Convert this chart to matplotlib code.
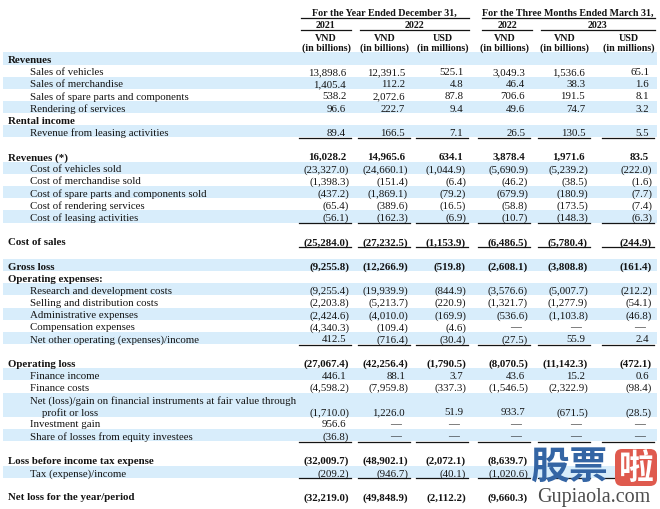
import matplotlib.pyplot as plt
from matplotlib.patches import Rectangle, FancyBboxPatch
import numpy as np

# table rows, '' = blank spacer row
row_labels = [
    "Revenues", "Sales of vehicles", "Sales of merchandise",
    "Sales of spare parts and components", "Rendering of services",
    "Rental income", "Revenue from leasing activities", "",
    "Revenues (*)", "Cost of vehicles sold", "Cost of merchandise sold",
    "Cost of spare parts and components sold", "Cost of rendering services",
    "Cost of leasing activities", "", "Cost of sales", "",
    "Gross loss", "Operating expenses:", "Research and development costs",
    "Selling and distribution costs", "Administrative expenses",
    "Compensation expenses", "Net other operating (expenses)/income", "",
    "Operating loss", "Finance income", "Finance costs",
    "Net (loss)/gain on financial instruments at fair value through",
    "profit or loss", "Investment gain", "Share of losses from equity investees", "",
    "Loss before income tax expense", "Tax (expense)/income", "",
    "Net loss for the year/period",
]

# rows that carry numbers, in order
value_rows = [
    "Sales of vehicles", "Sales of merchandise", "Sales of spare parts and components",
    "Rendering of services", "Revenue from leasing activities", "Revenues (*)",
    "Cost of vehicles sold", "Cost of merchandise sold",
    "Cost of spare parts and components sold", "Cost of rendering services",
    "Cost of leasing activities", "Cost of sales", "Gross loss",
    "Research and development costs", "Selling and distribution costs",
    "Administrative expenses", "Compensation expenses",
    "Net other operating (expenses)/income", "Operating loss", "Finance income",
    "Finance costs", "profit or loss", "Investment gain",
    "Share of losses from equity investees", "Loss before income tax expense",
    "Tax (expense)/income", "Net loss for the year/period",
]

D = None          # shown as a dash
H = np.nan        # hidden under the watermark

vnd_2021 = [13898.6, 1405.4, 538.2, 96.6, 89.4, 16028.2, -23327.0, -1398.3, -437.2,
            -65.4, -56.1, -25284.0, -9255.8, -9255.4, -2203.8, -2424.6, -4340.3, 412.5,
            -27067.4, 446.1, -4598.2, -1710.0, 956.6, -36.8, -32009.7, -209.2, -32219.0]
vnd_2022 = [12391.5, 112.2, 2072.6, 222.7, 166.5, 14965.6, -24660.1, -151.4, -1869.1,
            -389.6, -162.3, -27232.5, -12266.9, -19939.9, -5213.7, -4010.0, -109.4, -716.4,
            -42256.4, 88.1, -7959.8, 1226.0, D, D, -48902.1, -946.7, -49848.9]
usd_2022 = [525.1, 4.8, 87.8, 9.4, 7.1, 634.1, -1044.9, -6.4, -79.2,
            -16.5, -6.9, -1153.9, -519.8, -844.9, -220.9, -169.9, -4.6, -30.4,
            -1790.5, 3.7, -337.3, 51.9, D, D, -2072.1, -40.1, -2112.2]
vnd_q1_2022 = [3049.3, 46.4, 706.6, 49.6, 26.5, 3878.4, -5690.9, -46.2, -679.9,
               -58.8, -10.7, -6486.5, -2608.1, -3576.6, -1321.7, -536.6, D, -27.5,
               -8070.5, 43.6, -1546.5, 933.7, D, D, -8639.7, -1020.6, -9660.3]
vnd_q1_2023 = [1536.6, 38.3, 191.5, 74.7, 130.5, 1971.6, -5239.2, -38.5, -180.9,
               -173.5, -148.3, -5780.4, -3808.8, -5007.7, -1277.9, -1103.8, D, 55.9,
               -11142.3, 15.2, -2322.9, -671.5, D, D, H, H, H]
usd_q1_2023 = [65.1, 1.6, 8.1, 3.2, 5.5, 83.5, -222.0, -1.6, -7.7,
               -7.4, -6.3, -244.9, -161.4, -212.2, -54.1, -46.8, D, 2.4,
               -472.1, 0.6, -98.4, -28.5, D, D, H, H, H]

columns = [vnd_2021, vnd_2022, usd_2022, vnd_q1_2022, vnd_q1_2023, usd_q1_2023]
unit_top = ["VND", "VND", "USD", "VND", "VND", "USD"]
unit_bottom = ["(in billions)", "(in billions)", "(in millions)",
               "(in billions)", "(in billions)", "(in millions)"]

bold_rows = {"Revenues", "Rental income", "Revenues (*)", "Cost of sales", "Gross loss",
             "Operating expenses:", "Operating loss", "Loss before income tax expense",
             "Net loss for the year/period"}
bold_values = {"Revenues (*)", "Cost of sales", "Gross loss", "Operating loss",
               "Loss before income tax expense", "Net loss for the year/period"}
shaded_rows = {"Revenues", "Sales of merchandise", "Rendering of services",
               "Revenue from leasing activities", "Cost of vehicles sold",
               "Cost of spare parts and components sold", "Cost of leasing activities",
               "Gross loss", "Research and development costs", "Administrative expenses",
               "Net other operating (expenses)/income", "Finance income",
               "Net (loss)/gain on financial instruments at fair value through",
               "profit or loss", "Share of losses from equity investees",
               "Tax (expense)/income"}
underlined_rows = ["Revenue from leasing activities", "Cost of leasing activities",
                   "Cost of sales", "Net other operating (expenses)/income",
                   "Share of losses from equity investees", "Tax (expense)/income"]

FONT = "Liberation Serif"
FS = 7.8
HFS = 7.2
TXT = "#141414"
SHADE = "#d8edfb"
VA = "center_baseline"

fig = plt.figure(figsize=(6.6, 5.1), dpi=100)
ax = fig.add_axes([0, 0, 1, 1])
ax.set_xlim(0, 660)
ax.set_ylim(510, 0)
ax.axis("off")

y0, step = 59.5, 12.15
col_right = [349, 408, 466, 528, 588, 652]
paren = 2.8

# header
ax.text(384, 12, "For the Year Ended December 31,", ha="center", va=VA,
        fontsize=HFS, fontweight="bold", family=FONT, color=TXT)
ax.text(568, 12, "For the Three Months Ended March 31,", ha="center", va=VA,
        fontsize=HFS, fontweight="bold", family=FONT, color=TXT)
ax.plot([301, 469], [18.5, 18.5], color=TXT, lw=0.9)
ax.plot([482, 655], [18.5, 18.5], color=TXT, lw=0.9)
for txt, a, b in [("2021", 301, 351), ("2022", 360, 469), ("2022", 482, 532), ("2023", 541, 655)]:
    ax.text((a + b) / 2, 24.5, txt, ha="center", va=VA, fontsize=HFS,
            fontweight="bold", family=FONT, color=TXT)
    ax.plot([a, b], [30.5, 30.5], color=TXT, lw=0.9)
for i, r in enumerate(col_right):
    cx = r - 23
    ax.text(cx, 37.5, unit_top[i], ha="center", va=VA, fontsize=HFS,
            fontweight="bold", family=FONT, color=TXT)
    ax.text(cx, 47, unit_bottom[i], ha="center", va=VA, fontsize=HFS,
            fontweight="bold", family=FONT, color=TXT)

row_y = {}
for i, lab in enumerate(row_labels):
    y = y0 + i * step
    if lab == "":
        continue
    row_y[lab] = y
    if lab in shaded_rows:
        ax.add_patch(Rectangle((3, y - step / 2), 654, step, color=SHADE, lw=0, zorder=0))
    if lab in bold_rows:
        x = 8
    elif lab == "profit or loss":
        x = 42
    else:
        x = 30
    ax.text(x, y, lab, ha="left", va=VA, fontsize=FS, family=FONT, color=TXT,
            fontweight="bold" if lab in bold_rows else "normal")

for j, lab in enumerate(value_rows):
    y = row_y[lab]
    w = "bold" if lab in bold_values else "normal"
    for c, col in enumerate(columns):
        v = col[j]
        r = col_right[c]
        if v is None:
            ax.text(r - 12, y, "\u2014", ha="center", va=VA, fontsize=FS,
                    family=FONT, color=TXT)
            continue
        if np.isnan(v):
            continue
        if v < 0:
            s = "({:,.1f})".format(-v)
            ax.text(r, y, s, ha="right", va=VA, fontsize=FS, family=FONT,
                    color=TXT, fontweight=w)
        else:
            s = "{:,.1f}".format(v)
            ax.text(r - paren, y, s, ha="right", va=VA, fontsize=FS, family=FONT,
                    color=TXT, fontweight=w)

for lab in underlined_rows:
    y = row_y[lab] + 6.6
    for r in col_right:
        ax.plot([r - 50, r + 2], [y, y], color=TXT, lw=0.9)

# watermark
ax.text(531, 468, "股票", ha="left", va="center", fontsize=28, fontweight="bold",
        family=["Noto Sans CJK SC", "DejaVu Sans"], color="#3465a4", zorder=5)
ax.add_patch(FancyBboxPatch((615, 450), 42, 37, boxstyle="round,pad=0,rounding_size=7",
                            color="#df5a4e", lw=0, zorder=5))
ax.text(636, 468.5, "啦", ha="center", va="center", fontsize=25, fontweight="bold",
        family=["Noto Sans CJK SC", "DejaVu Sans"], color="white", zorder=6)
ax.text(594, 498, "Gupiaola.com", ha="center", va="center", fontsize=14.5,
        family=FONT, color="#4d4d4d", zorder=6)

fig.savefig("out.png", dpi=100)
